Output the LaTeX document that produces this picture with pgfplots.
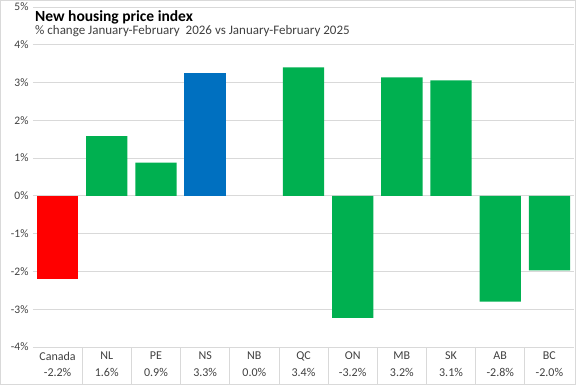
\documentclass[border=0pt]{standalone}
\usepackage{pgfplots}
\pgfplotsset{compat=1.18}
\usepackage{fontspec}
\setmainfont{Carlito}
\definecolor{cred}{HTML}{FF0000}
\definecolor{cgreen}{HTML}{00B050}
\definecolor{cblue}{HTML}{0070C0}
\definecolor{cgrid}{HTML}{D9D9D9}
\definecolor{ctxt}{HTML}{404040}
\begin{document}
\begin{tikzpicture}
\useasboundingbox (-33bp,-38bp) rectangle (543bp,347bp);
\draw[cgrid, line width=0.8bp] (-32.6bp,-37.6bp) rectangle (542.6bp,346.6bp);
\begin{axis}[
  at={(0,0)}, anchor=south west,
  scale only axis, width=541bp, height=340bp,
  xmin=-0.5, xmax=10.5, ymin=-4, ymax=5,
  axis line style={draw=none},
  ymajorgrids, grid style={cgrid, line width=0.8bp},
  ytick={-4,-3,...,5},
  yticklabels={-4\%,-3\%,-2\%,-1\%,0\%,1\%,2\%,3\%,4\%,5\%},
  yticklabel style={font=\fontsize{11.5bp}{13bp}\selectfont, text=ctxt, xshift=-1bp},
  xtick={0,...,10},
  xticklabels={{Canada\\[1.5bp]-2.2\%},{NL\\[1.5bp]1.6\%},{PE\\[1.5bp]0.9\%},{NS\\[1.5bp]3.3\%},{NB\\[1.5bp]0.0\%},{QC\\[1.5bp]3.4\%},{ON\\[1.5bp]-3.2\%},{MB\\[1.5bp]3.2\%},{SK\\[1.5bp]3.1\%},{AB\\[1.5bp]-2.8\%},{BC\\[1.5bp]-2.0\%}},
  xticklabel style={align=center, font=\fontsize{12bp}{15bp}\selectfont, text=ctxt, yshift=-1.5bp},
  major tick length=0pt,
  ybar, bar width=0.84,
  clip=false,
]
\addplot[fill=cred, draw=none, bar shift=0] coordinates {(0,-2.2)};
\addplot[fill=cblue, draw=none, bar shift=0] coordinates {(3,3.25)};
\addplot[fill=cgreen, draw=none, bar shift=0] coordinates {(1,1.58) (2,0.88) (5,3.4) (6,-3.23) (7,3.14) (8,3.06) (9,-2.8) (10,-1.97)};
\foreach \k in {0.5,1.5,...,9.5}{
  \edef\tmp{\noexpand\draw[cgrid, line width=0.8bp] (axis cs:\k,-4) -- ([yshift=-37bp]axis cs:\k,-4);}
  \tmp
}
\node[anchor=north west, inner sep=0pt, font=\fontsize{15.5bp}{17bp}\selectfont\bfseries] at ([xshift=2bp,yshift=-3bp]rel axis cs:0,1) {New housing price index};
\node[anchor=north west, inner sep=0pt, font=\fontsize{13bp}{14bp}\selectfont, text=ctxt] at ([xshift=2bp,yshift=-18bp]rel axis cs:0,1) {\% change January-February\ \ 2026 vs January-February 2025};
\end{axis}
\end{tikzpicture}
\end{document}
